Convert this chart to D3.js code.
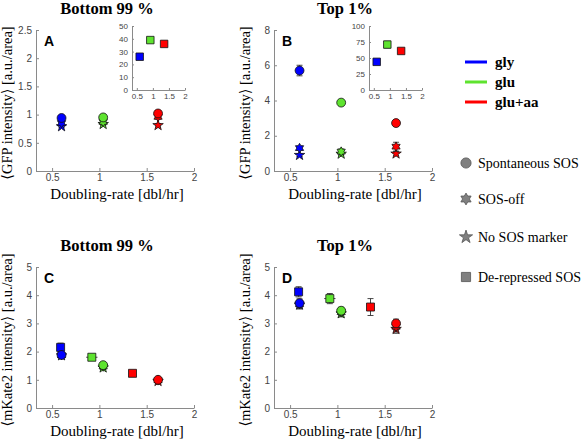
<!DOCTYPE html>
<html><head><meta charset="utf-8">
<script src="https://cdn.jsdelivr.net/npm/d3@7"></script>
<style>body{margin:0;background:#fff} svg{display:block}</style>
</head><body><svg id="c" width="586" height="439"></svg>
<script>
// ---------- data ----------
const groups = ["gly", "glu", "glu+aa"];
const groupColors = ["#0000ff", "#5ee32f", "#ff0000"];
const markerTypes = ["Spontaneous SOS", "SOS-off", "No SOS marker", "De-repressed SOS"];
const rateSOS = [0.6, 1.04, 1.62];          // doubling rate for SOS reporter strains
const rateDerep = [0.59, 0.92, 1.35];       // doubling rate for de-repressed strains
const rateDerepErr = [0.02, 0.06, 0.03];
const xTicks = [0.5, 1, 1.5, 2];
const insetXTicks = [0.5, 1, 1.5, 2];

// Panel A: GFP, bottom 99 %
const spontA = [0.94, 0.95, 1.02], spontAErr = [0.03, 0.03, 0.05];
const offA = [0.85, 0.87, 0.96], offAErr = [0.03, 0.03, 0.04];
const noA = [0.79, 0.83, 0.81], noAErr = [0.02, 0.02, 0.03];
const insetA = [26, 39, 36], insetAErr = [0.5, 1, 0.5];
const yTicksA = [0, 0.5, 1, 1.5, 2, 2.5];
const insetTicksA = [0, 10, 20, 30, 40, 50];

// Panel B: GFP, top 1%
const spontB = [5.7, 3.88, 2.72], spontBErr = [0.3, 0.12, 0.15];
const offB = [1.3, 1.1, 1.38], offBErr = [0.1, 0.15, 0.25];
const noB = [0.9, 0.97, 0.98], noBErr = [0.08, 0.1, 0.12];
const insetB = [44, 71, 61], insetBErr = [1, 5, 1];
const yTicksB = [0, 2, 4, 6, 8];
const insetTicksB = [0, 25, 50, 75, 100];

// Panel C: mKate2, bottom 99 %
const derepC = [2.15, 1.8, 1.23], derepCErr = [0.15, 0.05, 0.05];
const spontC = [1.88, 1.52, 1.0], spontCErr = [0.05, 0.05, 0.04];
const offC = [1.87, 1.47, 0.98], offCErr = [0.05, 0.05, 0.04];
const noC = [1.86, 1.43, 0.95], noCErr = [0.05, 0.05, 0.04];
const yTicksC = [0, 1, 2, 3, 4, 5];

// Panel D: mKate2, top 1%
const derepD = [4.12, 3.88, 3.58], derepDErr = [0.18, 0.18, 0.3];
const spontD = [3.72, 3.45, 3.0], spontDErr = [0.15, 0.12, 0.15];
const offD = [3.68, 3.4, 2.88], offDErr = [0.15, 0.12, 0.15];
const noD = [3.66, 3.35, 2.8], noDErr = [0.15, 0.12, 0.15];
const yTicksD = [0, 1, 2, 3, 4, 5];

// ---------- symbols ----------
const hexagram = {
  draw(ctx, size) {
    const r = Math.sqrt(size / 1.6);
    for (let i = 0; i < 12; i++) {
      const a = i * Math.PI / 6 - Math.PI / 2;
      const rr = i % 2 ? r / Math.sqrt(3) : r;
      const px = rr * Math.cos(a), py = rr * Math.sin(a);
      if (i === 0) ctx.moveTo(px, py); else ctx.lineTo(px, py);
    }
    ctx.closePath();
  }
};
const symDefs = {
  circle: {type: d3.symbolCircle, size: 62},
  hex: {type: hexagram, size: 36},
  star: {type: d3.symbolStar, size: 34},
  square: {type: d3.symbolSquare, size: 64}
};

const svg = d3.select("#c");
const serif = "'Liberation Serif', 'DejaVu Serif', serif";
const sans = "'Liberation Sans', Arial, sans-serif";
const axisColor = "#8a8a8a";

function styleAxis(g, fs) {
  g.select(".domain").attr("stroke", axisColor);
  g.selectAll(".tick line").attr("stroke", axisColor);
  g.selectAll(".tick text").attr("fill", "#444").style("font-family", sans).style("font-size", fs + "px");
}

function drawAxes(g, x, y, yTicks, xT, fs, tick) {
  const ax = g.append("g").attr("transform", `translate(0,${y.range()[0]})`)
    .call(d3.axisBottom(x).tickValues(xT).tickFormat(d3.format("")).tickSizeInner(-tick).tickSizeOuter(0).tickPadding(3));
  styleAxis(ax, fs);
  const ay = g.append("g").attr("transform", `translate(${x.range()[0]},0)`)
    .call(d3.axisLeft(y).tickValues(yTicks).tickFormat(d3.format("")).tickSizeInner(-tick).tickSizeOuter(0).tickPadding(4));
  styleAxis(ay, fs);
}

function drawSeries(g, x, y, s) {
  const sd = symDefs[s.sym];
  const pts = s.ys.map((v, i) => ({x: s.xs[i], y: v, e: s.err ? s.err[i] : 0, xe: s.xerr ? s.xerr[i] : 0, c: groupColors[i]}));
  const eb = g.append("g").attr("stroke", "#333").attr("stroke-width", 0.9).attr("fill", "none");
  pts.forEach(p => {
    if (p.e > 0) {
      eb.append("line").attr("x1", x(p.x)).attr("x2", x(p.x)).attr("y1", y(p.y - p.e)).attr("y2", y(p.y + p.e));
      [p.y - p.e, p.y + p.e].forEach(v => eb.append("line").attr("x1", x(p.x) - 3).attr("x2", x(p.x) + 3).attr("y1", y(v)).attr("y2", y(v)));
    }
    if (p.xe > 0) {
      eb.append("line").attr("y1", y(p.y)).attr("y2", y(p.y)).attr("x1", x(p.x - p.xe)).attr("x2", x(p.x + p.xe));
    }
  });
  g.append("g").selectAll("path").data(pts).join("path")
    .attr("transform", p => `translate(${x(p.x)},${y(p.y)})`)
    .attr("d", d3.symbol().type(sd.type).size(s.size || sd.size))
    .attr("fill", p => p.c).attr("stroke", "#111").attr("stroke-width", 0.8);
}

function panel(opt) {
  const g = svg.append("g");
  const x = d3.scaleLinear().domain([0.33, 2]).range([opt.left, opt.left + 158]);
  const y = d3.scaleLinear().domain([0, opt.yTicks[opt.yTicks.length - 1]]).range([opt.bottom, opt.bottom - 141]);
  drawAxes(g, x, y, opt.yTicks, xTicks, 10, 3);
  opt.series.forEach(s => drawSeries(g, x, y, s));
  // title
  g.append("text").attr("x", opt.left + 71).attr("y", opt.bottom - 157).attr("text-anchor", "middle")
    .style("font-family", serif).style("font-weight", "bold").style("font-size", "16.5px").text(opt.title);
  // panel letter
  g.append("text").attr("x", opt.left + 13).attr("y", opt.bottom - 125).attr("text-anchor", "middle")
    .style("font-family", sans).style("font-weight", "bold").style("font-size", "14px").text(opt.letter);
  // x label
  g.append("text").attr("x", opt.left + 81).attr("y", opt.bottom + 28).attr("text-anchor", "middle")
    .style("font-family", serif).style("font-size", "15px").text("Doubling-rate [dbl/hr]");
  // y label
  g.append("text").attr("transform", `translate(${opt.left - 24},${opt.bottom - 68}) rotate(-90)`).attr("text-anchor", "middle")
    .style("font-family", serif).style("font-size", "14.5px").text(opt.ylabel);
  if (opt.inset) {
    const ix = d3.scaleLinear().domain([0.35, 2]).range([opt.inset.left, opt.inset.left + 53]);
    const iy = d3.scaleLinear().domain([0, opt.inset.ticks[opt.inset.ticks.length - 1]]).range([90, 26]);
    const gi = g.append("g");
    drawAxes(gi, ix, iy, opt.inset.ticks, insetXTicks, 8, 2);
    drawSeries(gi, ix, iy, {sym: "square", xs: rateDerep, ys: opt.inset.ys, err: opt.inset.err, size: 56});
  }
}

panel({left: 36, bottom: 171, title: "Bottom 99 %", letter: "A", ylabel: "\u27E8GFP intensity\u27E9 [a.u./area]", yTicks: yTicksA,
  series: [
    {sym: "star", xs: rateSOS, ys: noA, err: noAErr},
    {sym: "hex", xs: rateSOS, ys: offA, err: offAErr},
    {sym: "circle", xs: rateSOS, ys: spontA, err: spontAErr}
  ],
  inset: {left: 132, ys: insetA, err: insetAErr, ticks: insetTicksA}});

panel({left: 274, bottom: 171, title: "Top 1%", letter: "B", ylabel: "\u27E8GFP intensity\u27E9 [a.u./area]", yTicks: yTicksB,
  series: [
    {sym: "star", xs: rateSOS, ys: noB, err: noBErr},
    {sym: "hex", xs: rateSOS, ys: offB, err: offBErr},
    {sym: "circle", xs: rateSOS, ys: spontB, err: spontBErr}
  ],
  inset: {left: 369, ys: insetB, err: insetBErr, ticks: insetTicksB}});

panel({left: 36, bottom: 408, title: "Bottom 99 %", letter: "C", ylabel: "\u27E8mKate2 intensity\u27E9 [a.u./area]", yTicks: yTicksC,
  series: [
    {sym: "square", xs: rateDerep, ys: derepC, err: derepCErr, xerr: rateDerepErr},
    {sym: "star", xs: rateSOS, ys: noC, err: noCErr},
    {sym: "hex", xs: rateSOS, ys: offC, err: offCErr},
    {sym: "circle", xs: rateSOS, ys: spontC, err: spontCErr}
  ]});

panel({left: 274, bottom: 408, title: "Top 1%", letter: "D", ylabel: "\u27E8mKate2 intensity\u27E9 [a.u./area]", yTicks: yTicksD,
  series: [
    {sym: "square", xs: rateDerep, ys: derepD, err: derepDErr, xerr: rateDerepErr},
    {sym: "star", xs: rateSOS, ys: noD, err: noDErr},
    {sym: "hex", xs: rateSOS, ys: offD, err: offDErr},
    {sym: "circle", xs: rateSOS, ys: spontD, err: spontDErr}
  ]});

// ---------- legends ----------
const lg = svg.append("g");
groups.forEach((name, i) => {
  const yy = 62 + i * 20;
  lg.append("line").attr("x1", 465).attr("x2", 487).attr("y1", yy).attr("y2", yy).attr("stroke", groupColors[i]).attr("stroke-width", 3);
  lg.append("text").attr("x", 495).attr("y", yy + 5).style("font-family", serif).style("font-weight", "bold").style("font-size", "15px").text(name);
});
const legSyms = ["circle", "hex", "star", "square"];
const legY = [163, 199, 237, 277];
markerTypes.forEach((name, i) => {
  const sd = symDefs[legSyms[i]];
  lg.append("path").attr("transform", `translate(466,${legY[i]})`).attr("d", d3.symbol().type(sd.type).size(sd.size + 20))
    .attr("fill", "#808080").attr("stroke", "#555").attr("stroke-width", 0.8);
  lg.append("text").attr("x", 478).attr("y", legY[i] + 5).style("font-family", serif).style("font-size", "14px").text(name);
});
</script></body></html>
